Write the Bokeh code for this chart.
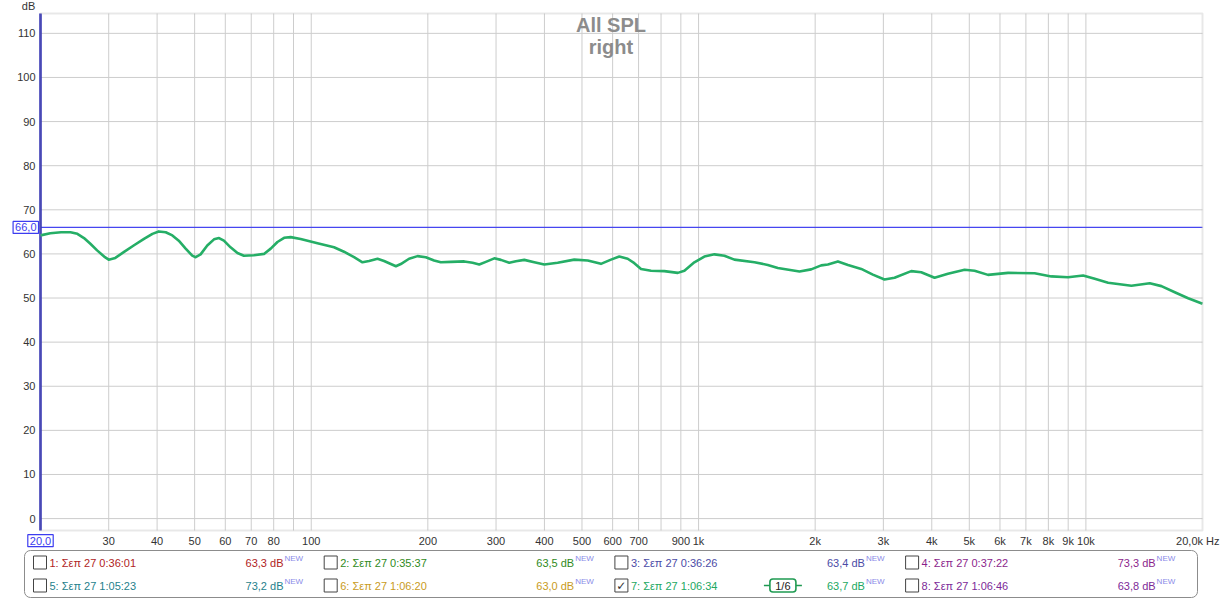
import math
from bokeh.plotting import figure
from bokeh.models import (Range1d, FixedTicker, Label, ColumnDataSource, BoxAnnotation,
                          LinearScale)
from bokeh.embed import file_html
from bokeh.resources import INLINE
from bokeh.core.properties import value

FONT = "Liberation Sans"

# ---------------- data ----------------
freq_hz = [20, 21.2, 22.6, 23.9, 24.9, 25.9, 26.9, 28.0, 29.2, 30.0, 31.2, 32.8, 34.8,
           37.0, 38.9, 40.4, 42.1, 43.8, 45.5, 47.4, 49.3, 50.3, 51.8, 53.9, 56.1,
           57.8, 59.5, 61.9, 64.5, 67.0, 71.1, 75.5, 78.6, 81.8, 85.1, 88.5, 93.9,
           103.8, 114.5, 121.5, 129, 135.6, 141, 148.3, 154.2, 165.4, 170.3, 178.9,
           188.1, 197.6, 207.6, 216, 229.4, 248.3, 261, 271.5, 282.4, 296.9, 308.8,
           324.5, 337.6, 354.8, 376.6, 399.7, 432.7, 477.6, 517.3, 559.7, 594.2,
           624.2, 656.2, 682.6, 710.3, 753.9, 815.8, 883.7, 919.2, 975.2, 1035, 1099,
           1166, 1237, 1394, 1509, 1602, 1822, 1953, 2073, 2157, 2290, 2431, 2630,
           2818, 3020, 3206, 3540, 3757, 4067, 4404, 4862, 5159, 5589, 6297, 7373,
           8142, 8992, 9836, 10539, 11412, 13108, 14617, 15668, 16960, 18366, 20000]
spl_db = [64.2, 64.7, 64.9, 64.9, 64.55, 63.6, 62.3, 60.8, 59.4, 58.7, 59.1, 60.4, 61.9,
          63.4, 64.55, 65.1, 64.9, 64.2, 63.0, 61.2, 59.6, 59.25, 59.9, 61.9, 63.3,
          63.6, 63.0, 61.5, 60.2, 59.6, 59.7, 60.0, 61.2, 62.7, 63.65, 63.8, 63.4,
          62.4, 61.5, 60.5, 59.25, 58.1, 58.4, 58.9, 58.4, 57.2, 57.7, 58.9,
          59.5, 59.25, 58.5, 58.1, 58.2, 58.3, 58.0, 57.6, 58.2, 59.0, 58.65,
          58.0, 58.35, 58.65, 58.1, 57.6, 58.0, 58.7, 58.5, 57.75, 58.7,
          59.4, 58.9, 57.9, 56.6, 56.2, 56.1, 55.7, 56.2, 58.1, 59.4, 59.9,
          59.6, 58.7, 58.1, 57.5, 56.8, 56.0, 56.5, 57.4, 57.6, 58.3, 57.5, 56.6,
          55.3, 54.2, 54.6, 56.1, 55.85, 54.6, 55.5, 56.4, 56.2, 55.25, 55.7, 55.6,
          54.9, 54.7, 55.1, 54.35, 53.45, 52.8, 53.35, 52.7, 51.3, 49.95, 48.7]

x_ticks = [20, 30, 40, 50, 60, 70, 80, 90, 100, 200, 300, 400, 500, 600, 700, 800, 900,
           1000, 2000, 3000, 4000, 5000, 6000, 7000, 8000, 9000, 10000, 20000]
x_tick_labels = ["", "30", "40", "50", "60", "70", "80", "", "100", "200", "300", "400",
                 "500", "600", "700", "", "900", "1k", "2k", "3k", "4k", "5k", "6k",
                 "7k", "8k", "9k", "10k", ""]
y_ticks = [0, 10, 20, 30, 40, 50, 60, 70, 80, 90, 100, 110]

f_min, f_max = 20, 20000
db_min, db_max = -2.7, 114.5
cursor_level = 66.0
cursor_freq = 20

legend_names = ["1: Σεπ 27 0:36:01", "2: Σεπ 27 0:35:37", "3: Σεπ 27 0:36:26",
                "4: Σεπ 27 0:37:22", "5: Σεπ 27 1:05:23", "6: Σεπ 27 1:06:20",
                "7: Σεπ 27 1:06:34", "8: Σεπ 27 1:06:46"]
legend_levels = ["63,3 dB", "63,5 dB", "63,4 dB", "73,3 dB",
                 "73,2 dB", "63,0 dB", "63,7 dB", "63,8 dB"]
legend_colors = ["#b02323", "#2f8a22", "#4b4ba6", "#8c1f8c",
                 "#1f7f8c", "#c99b1c", "#22a862", "#7d2a98"]
legend_checked = [False, False, False, False, False, False, True, False]

# ---------------- layout geometry (pixels) ----------------
W, H = 1221, 600
AREA_L, AREA_R, AREA_T, AREA_B = 40, 1202, 13, 530
dec_per_px = math.log10(f_max / f_min) / (AREA_R - AREA_L)
db_per_px = (db_max - db_min) / (AREA_B - AREA_T)
x_start = f_min * 10 ** (-AREA_L * dec_per_px)
x_end = f_max * 10 ** ((W - AREA_R) * dec_per_px)
y_end = db_max + AREA_T * db_per_px
y_start = db_min - (H - AREA_B) * db_per_px

p = figure(width=W, height=H, x_axis_type="log",
           x_range=Range1d(x_start, x_end), y_range=Range1d(y_start, y_end),
           output_backend="svg", toolbar_location=None, min_border=0)
p.background_fill_color = "white"
p.border_fill_color = "white"
p.outline_line_color = None
p.grid.visible = False

p.xaxis.ticker = FixedTicker(ticks=x_ticks)
p.xaxis.major_label_overrides = {t: l for t, l in zip(x_ticks, x_tick_labels)}
p.yaxis.ticker = FixedTicker(ticks=y_ticks)
p.xaxis.fixed_location = db_min
p.yaxis.fixed_location = f_min
for ax in (p.xaxis, p.yaxis):
    ax.axis_line_color = None
    ax.major_tick_line_color = None
    ax.minor_tick_line_color = None
    ax.major_tick_out = 0
    ax.major_tick_in = 0
    ax.major_label_text_font = FONT
    ax.major_label_text_font_size = "11px"
    ax.major_label_text_color = "#333333"
p.xaxis.major_label_standoff = 4
p.yaxis.major_label_standoff = 5

# grid lines, limited to the plotting area
gx = [t for t in x_ticks if f_min < t < f_max]
p.segment(x0=gx, x1=gx, y0=[db_min] * len(gx), y1=[db_max] * len(gx),
          line_color="#cdcdcd", line_width=1)
gy = [t for t in y_ticks if db_min < t < db_max]
p.segment(x0=[f_min] * len(gy), x1=[f_max] * len(gy), y0=gy, y1=gy,
          line_color="#cdcdcd", line_width=1)

p.add_layout(BoxAnnotation(left=f_min, right=f_max, bottom=db_min, top=db_max,
                           fill_color=None, line_color="#b4b4b4", line_width=2))

# cursor lines
p.segment(x0=[f_min], x1=[f_max], y0=[cursor_level], y1=[cursor_level],
          line_color="#4646f0", line_width=1.2)
p.segment(x0=[cursor_freq], x1=[cursor_freq], y0=[db_min], y1=[db_max],
          line_color="#1c1cb4", line_width=2.5)

p.line(freq_hz, spl_db, line_color="#25ae66", line_width=2.6, line_join="round")

p.add_layout(Label(x=594, y=111.8, text="All SPL", text_align="center",
                   text_baseline="middle", text_font=FONT, text_font_size="20px",
                   text_font_style="bold", text_color="#8c8c8c"))
p.add_layout(Label(x=594, y=106.8, text="right", text_align="center",
                   text_baseline="middle", text_font=FONT, text_font_size="20px",
                   text_font_style="bold", text_color="#8c8c8c"))
p.add_layout(Label(x=cursor_freq, y=116.2, x_offset=-12, text="dB",
                   text_align="center", text_baseline="middle", text_font=FONT,
                   text_font_size="11px", text_color="#333333"))
p.add_layout(Label(x=cursor_freq, y=cursor_level, x_offset=-2, text="66,0",
                   text_align="right", text_baseline="middle", text_font=FONT,
                   text_font_size="11px", text_color="#3c3cf0",
                   border_line_color="#3c3cf0", border_line_width=1.2,
                   background_fill_color="white", padding=2))
p.add_layout(Label(x=cursor_freq, y=-5.0, text="20,0",
                   text_align="center", text_baseline="middle", text_font=FONT,
                   text_font_size="11px", text_color="#3c3cf0",
                   border_line_color="#3c3cf0", border_line_width=1.2,
                   background_fill_color="white", padding=2))
p.add_layout(Label(x=f_max, y=-5.0, x_offset=17, text="20,0k Hz",
                   text_align="right", text_baseline="middle", text_font=FONT,
                   text_font_size="11px", text_color="#333333"))

# ---------------- legend strip (pixel coordinate ranges) ----------------
p.extra_x_ranges = {"px": Range1d(0, W)}
p.extra_y_ranges = {"py": Range1d(H, 0)}
p.extra_x_scales = {"px": LinearScale()}
p.extra_y_scales = {"py": LinearScale()}
PX = dict(x_range_name="px", y_range_name="py")

p.quad(left=[24], right=[1197], top=[550], bottom=[597], fill_color="white",
       line_color="#8c8c8c", line_width=1, border_radius=6, **PX)

col_step = 290.7
xs, ys = [], []
for i in range(len(legend_names)):
    xs.append(33 + (i % 4) * col_step)
    ys.append(562 + (i // 4) * 23)

src = ColumnDataSource(dict(
    box_x=[x + 6.5 for x in xs], y=ys,
    name_x=[x + 16 for x in xs], names=legend_names,
    lvl_x=[x + 250 for x in xs], levels=legend_levels,
    new_x=[x + 251 for x in xs], new_y=[y - 4 for y in ys],
    new=["NEW"] * len(xs), colors=legend_colors))

p.rect(x="box_x", y="y", width=13, height=13, source=src, fill_color="white",
       line_color="#444444", line_width=1, **PX)
p.text(x="name_x", y="y", text="names", text_color="colors", source=src,
       text_align="left", text_baseline="middle", text_font=value(FONT),
       text_font_size="11px", **PX)
p.text(x="lvl_x", y="y", text="levels", text_color="colors", source=src,
       text_align="right", text_baseline="middle", text_font=value(FONT),
       text_font_size="11px", **PX)
p.text(x="new_x", y="new_y", text="new", text_color="#8a8ae8", source=src,
       text_align="left", text_baseline="middle", text_font=value(FONT),
       text_font_size="8px", **PX)

chk_x = [xs[i] + 6.5 for i in range(len(xs)) if legend_checked[i]]
chk_y = [ys[i] for i in range(len(xs)) if legend_checked[i]]
p.text(x=chk_x, y=chk_y, text=["✓"] * len(chk_x), text_align="center",
       text_baseline="middle", text_font=value("DejaVu Sans"),
       text_font_size="12px", text_color="#333333", **PX)

# smoothing indicator next to item 7
sm_x = xs[6] + 168
sm_y = ys[6]
p.segment(x0=[sm_x - 19, sm_x + 13], y0=[sm_y, sm_y], x1=[sm_x - 13, sm_x + 19],
          y1=[sm_y, sm_y], line_color="#1f9a52", line_width=1.5, **PX)
p.rect(x=[sm_x], y=[sm_y], width=26, height=13, fill_color="white",
       line_color="#1f9a52", line_width=1.6, border_radius=3, **PX)
p.text(x=[sm_x], y=[sm_y], text=["1/6"], text_align="center", text_baseline="middle",
       text_font=value(FONT), text_font_size="11px", text_color="#222222", **PX)

open("out.html", "w").write(file_html(p, INLINE))
